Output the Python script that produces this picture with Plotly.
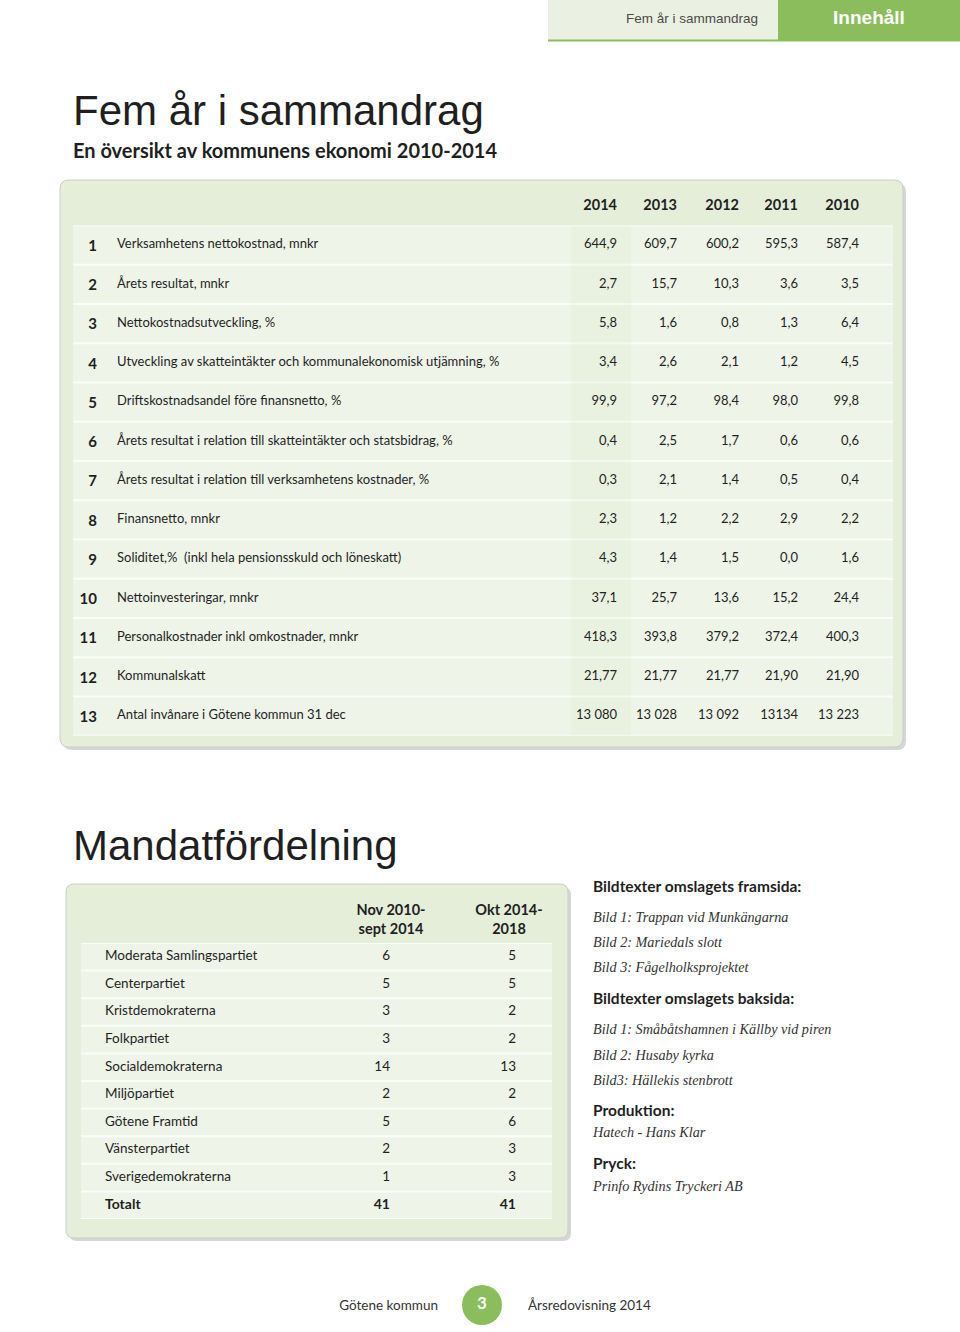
import plotly.graph_objects as go

W, H = 960, 1332

# ---- data -------------------------------------------------------------
years = ["2014", "2013", "2012", "2011", "2010"]
nyckeltal = [
    "Verksamhetens nettokostnad, mnkr",
    "Årets resultat, mnkr",
    "Nettokostnadsutveckling, %",
    "Utveckling av skatteintäkter och kommunalekonomisk utjämning, %",
    "Driftskostnadsandel före finansnetto, %",
    "Årets resultat i relation till skatteintäkter och statsbidrag, %",
    "Årets resultat i relation till verksamhetens kostnader, %",
    "Finansnetto, mnkr",
    "Soliditet,%\u00a0 (inkl hela pensionsskuld och löneskatt)",
    "Nettoinvesteringar, mnkr",
    "Personalkostnader inkl omkostnader, mnkr",
    "Kommunalskatt",
    "Antal invånare i Götene kommun 31 dec",
]
v2014 = ["644,9", "2,7", "5,8", "3,4", "99,9", "0,4", "0,3", "2,3", "4,3", "37,1", "418,3", "21,77", "13 080"]
v2013 = ["609,7", "15,7", "1,6", "2,6", "97,2", "2,5", "2,1", "1,2", "1,4", "25,7", "393,8", "21,77", "13 028"]
v2012 = ["600,2", "10,3", "0,8", "2,1", "98,4", "1,7", "1,4", "2,2", "1,5", "13,6", "379,2", "21,77", "13 092"]
v2011 = ["595,3", "3,6", "1,3", "1,2", "98,0", "0,6", "0,5", "2,9", "0,0", "15,2", "372,4", "21,90", "13134"]
v2010 = ["587,4", "3,5", "6,4", "4,5", "99,8", "0,6", "0,4", "2,2", "1,6", "24,4", "400,3", "21,90", "13 223"]

perioder = ["Nov 2010-<br>sept 2014", "Okt 2014-<br>2018"]
partier = ["Moderata Samlingspartiet", "Centerpartiet", "Kristdemokraterna", "Folkpartiet",
           "Socialdemokraterna", "Miljöpartiet", "Götene Framtid", "Vänsterpartiet",
           "Sverigedemokraterna"]
mandat_2010 = [6, 5, 3, 3, 14, 2, 5, 2, 1]
mandat_2014 = [5, 5, 2, 2, 13, 2, 6, 3, 3]

rubriker = ["Bildtexter omslagets framsida:", "Bildtexter omslagets baksida:", "Produktion:", "Pryck:"]
bildtexter = ["Bild 1: Trappan vid Munkängarna", "Bild 2: Mariedals slott", "Bild 3: Fågelholksprojektet",
              "Bild 1: Småbåtshamnen i Källby vid piren", "Bild 2: Husaby kyrka", "Bild3: Hällekis stenbrott",
              "Hatech - Hans Klar", "Prinfo Rydins Tryckeri AB"]

GREEN = "#8cbd5c"
BOX = "#e4eed9"
BAND = "#eef4e8"
SEP = "#fbfdf9"
DARK = "#1f1f1f"
SANS = "Liberation Sans, Arial, sans-serif"


def rrect(x0, y0, x1, y1, r):
    return (f"M{x0+r},{y0} L{x1-r},{y0} Q{x1},{y0} {x1},{y0+r} L{x1},{y1-r} Q{x1},{y1} {x1-r},{y1} "
            f"L{x0+r},{y1} Q{x0},{y1} {x0},{y1-r} L{x0},{y0+r} Q{x0},{y0} {x0+r},{y0} Z")


def text_trace(xs, ys, texts, pos, size, family, color=DARK, weight="normal", style="normal"):
    return go.Scatter(x=xs, y=ys, text=texts, mode="text", textposition=pos, hoverinfo="skip",
                      textfont=dict(size=size, family=family, color=color, weight=weight, style=style),
                      showlegend=False, cliponaxis=False)


fig = go.Figure()
shapes = []

# ---- page header --------------------------------------------------------
shapes.append(dict(type="rect", x0=548, x1=778, y0=0, y1=40, fillcolor="#eaf1e2", line_width=0))
shapes.append(dict(type="rect", x0=778, x1=960, y0=0, y1=40, fillcolor=GREEN, line_width=0))
shapes.append(dict(type="line", x0=548, x1=960, y0=40.5, y1=40.5, line=dict(color=GREEN, width=2)))
fig.add_trace(text_trace([692], [20], ["Fem år i sammandrag"], "middle center", 13.5, SANS, color="#4a4a4a"))
fig.add_trace(text_trace([869], [19], ["Innehåll"], "middle center", 19, SANS, color="white", weight="bold"))

fig.add_trace(text_trace([73], [114], ["Fem år i sammandrag"], "middle right", 42, SANS))
fig.add_trace(text_trace([73], [153], ["En översikt av kommunens ekonomi 2010-2014"], "middle right", 20,
                         "Lato", weight="bold"))

# ---- table 1 -----------------------------------------------------------
n = len(nyckeltal)
row_h = 39.25
row_top = 225.5
row_y = [row_top + row_h * (i + 0.5) for i in range(n)]

shapes.append(dict(type="path", path=rrect(63, 183, 906, 750, 9), fillcolor="rgba(0,0,0,0.16)", line_width=0))
shapes.append(dict(type="path", path=rrect(60, 180, 903, 747, 9), fillcolor=BOX,
                   line=dict(color="#c9cfc4", width=1)))
shapes.append(dict(type="rect", x0=73, x1=893, y0=row_top, y1=row_top + row_h * n,
                   fillcolor=SEP, line_width=0))
for i in range(n):
    y0 = row_top + row_h * i
    shapes.append(dict(type="rect", x0=73, x1=893, y0=y0 + 1, y1=y0 + row_h - 1,
                       fillcolor=BAND, line_width=0))
shapes.append(dict(type="rect", x0=571, x1=631, y0=row_top + 1, y1=row_top + row_h * n - 1,
                   fillcolor="rgba(200,220,180,0.12)", line_width=0))

col_x = [617, 677, 739, 798, 859]
fig.add_trace(text_trace(col_x, [206] * 5, years, "middle left", 14.5, "Lato", weight="bold"))
for xx, vals in zip(col_x, [v2014, v2013, v2012, v2011, v2010]):
    fig.add_trace(text_trace([xx] * n, row_y, vals, "middle left", 13, "Lato"))
fig.add_trace(text_trace([97] * n, [y + 2 for y in row_y], [str(i + 1) for i in range(n)],
                         "middle left", 15, "Lato", weight="bold"))
fig.add_trace(text_trace([117] * n, row_y, nyckeltal, "middle right", 13, "Lato"))

# ---- Mandatfördelning ----------------------------------------------------
fig.add_trace(text_trace([73], [849], ["Mandatfördelning"], "middle right", 42, SANS))

rows2 = partier + ["Totalt"]
m = len(rows2)
r2_h = 27.6
r2_top = 943
r2_y = [r2_top + r2_h * (i + 0.5) for i in range(m)]

shapes.append(dict(type="path", path=rrect(69, 887, 571, 1241, 8), fillcolor="rgba(0,0,0,0.16)", line_width=0))
shapes.append(dict(type="path", path=rrect(66, 884, 568, 1238, 8), fillcolor=BOX,
                   line=dict(color="#c9cfc4", width=1)))
shapes.append(dict(type="rect", x0=81, x1=552, y0=r2_top, y1=r2_top + r2_h * m,
                   fillcolor=SEP, line_width=0))
for i in range(m):
    y0 = r2_top + r2_h * i
    shapes.append(dict(type="rect", x0=81, x1=552, y0=y0 + 1, y1=y0 + r2_h - 1,
                       fillcolor=BAND, line_width=0))

fig.add_trace(text_trace([391, 509], [921, 921], perioder, "middle center", 14.5, "Lato", weight="bold"))
fig.add_trace(text_trace([105] * (m - 1), r2_y[:-1], partier, "middle right", 13.5, "Lato"))
fig.add_trace(text_trace([105], r2_y[-1:], ["Totalt"], "middle right", 14, "Lato", weight="bold"))
for xx, vals in zip([390, 516], [mandat_2010, mandat_2014]):
    fig.add_trace(text_trace([xx] * (m - 1), r2_y[:-1], [str(v) for v in vals], "middle left", 13.5, "Lato"))
    fig.add_trace(text_trace([xx], r2_y[-1:], [str(sum(vals))], "middle left", 14, "Lato", weight="bold"))

# ---- right column texts -------------------------------------------------
fig.add_trace(text_trace([593] * 4, [888, 1000, 1112, 1165], rubriker, "middle right", 15.5, "Lato",
                         weight="bold"))
fig.add_trace(text_trace([593] * 8, [918, 943, 968, 1030, 1056, 1081, 1133, 1187], bildtexter,
                         "middle right", 14.2, "Liberation Serif, Times New Roman, serif",
                         color="#333333", style="italic"))

# ---- footer ---------------------------------------------------------------
shapes.append(dict(type="circle", x0=462, x1=502, y0=1285, y1=1325, fillcolor=GREEN, line_width=0))
fig.add_trace(text_trace([482], [1305], ["3"], "middle center", 17, "Lato", color="white", weight="bold"))
fig.add_trace(text_trace([438], [1307], ["Götene kommun"], "middle left", 13.5, "Lato", color="#333333"))
fig.add_trace(text_trace([528], [1307], ["Årsredovisning 2014"], "middle right", 13.5, "Lato", color="#333333"))

for s in shapes:
    s["layer"] = "below"

fig.update_layout(
    width=W, height=H,
    margin=dict(l=0, r=0, t=0, b=0),
    paper_bgcolor="white", plot_bgcolor="white",
    shapes=shapes,
    xaxis=dict(range=[0, W], visible=False, fixedrange=True),
    yaxis=dict(range=[H, 0], visible=False, fixedrange=True),
)

fig.write_html("out.html", config={"displayModeBar": False},
               post_script="document.body.style.margin='0';")
